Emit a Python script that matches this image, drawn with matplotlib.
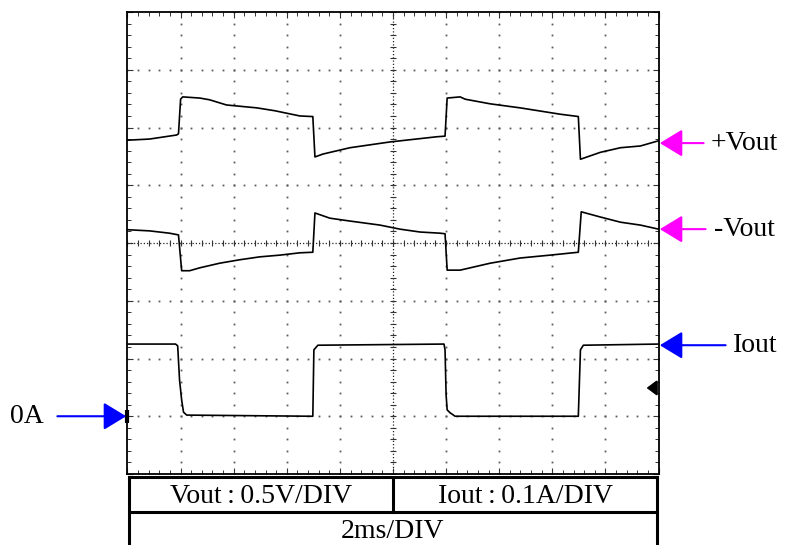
"""
Captura de osciloscopio: +Vout, -Vout e Iout con carga conmutada.
Vout: 0.5 V/DIV, Iout: 0.1 A/DIV, base de tiempo 2 ms/DIV.
"""

import numpy as np
import matplotlib.pyplot as plt
from matplotlib.patches import FancyArrowPatch
from matplotlib.ticker import MultipleLocator

plt.rcParams["font.family"] = ["Liberation Serif", "DejaVu Serif"]

t_vpos = [0, 0.83, 1.85, 1.92, 2.00, 2.08, 2.72, 3.09, 3.73, 4.87, 5.55,
          6.49, 6.94, 6.98, 7.06, 7.36, 8.38, 9.89, 11.66, 11.96, 12.04,
          12.53, 12.72, 13.66, 14.79, 16.30, 16.98, 17.06, 17.81, 18.57,
          19.32, 20.0]
vpos_div = [5.78, 5.80, 5.87, 5.89, 6.49, 6.53, 6.51, 6.48, 6.39, 6.34, 6.29,
            6.20, 6.19, 6.19, 5.49, 5.54, 5.65, 5.75, 5.84, 5.85, 6.51,
            6.53, 6.49, 6.41, 6.34, 6.23, 6.19, 5.45, 5.57, 5.65,
            5.68, 5.77]

t_vneg = [0, 0.83, 1.58, 1.92, 2.04, 2.34, 2.72, 3.47, 4.23, 4.98, 5.74,
          6.49, 6.98, 7.06, 7.62, 8.38, 9.51, 10.26, 11.02, 11.77, 11.96,
          12.04, 12.53, 13.66, 14.79, 15.92, 16.98, 17.09, 17.81, 18.57,
          19.32, 20.0]
vneg_div = [4.23, 4.21, 4.17, 4.14, 3.52, 3.52, 3.57, 3.65, 3.71, 3.76, 3.79,
            3.83, 3.84, 4.52, 4.43, 4.38, 4.31, 4.24, 4.19, 4.17, 4.16,
            3.53, 3.53, 3.65, 3.74, 3.79, 3.84, 4.54, 4.45, 4.36,
            4.31, 4.24]

t_iout = [0, 1.81, 1.89, 1.96, 2.04, 2.11, 2.23, 6.94, 6.98, 7.02, 7.17,
          11.92, 11.96, 12.0, 12.04, 12.15, 12.34, 16.98, 17.06, 17.17, 20.0]
iout_a = [0.125, 0.125, 0.122, 0.063, 0.028, 0.007, 0.002, 0.0, 0.0, 0.115,
          0.123, 0.125, 0.115, 0.037, 0.011, 0.006, 0.0, 0.0, 0.115, 0.123,
          0.125]

# Escalas y referencias de la pantalla
ms_per_div = 2.0
a_per_div = 0.1
zero_a_div = 1.0          # nivel de 0 A en la pantalla
n_xdiv, n_ydiv = 10, 8

# Marcadores de canal (nivel en DIV)
vpos_marker = 5.73
vneg_marker = 4.24
iout_marker = 2.23
trig_marker = 1.49

escala_v = "Vout\u2009:\u20090.5V/DIV"
escala_i = "Iout\u2009:\u20090.1A/DIV"
escala_t = "2ms/DIV"

MAGENTA = "#FF00FF"
AZUL = "#0000FF"

fig = plt.figure(figsize=(7.87, 5.45), dpi=100)
ax = fig.add_axes([127.5 / 787, 71 / 545, 531 / 787, 462 / 545])

t_max = n_xdiv * ms_per_div
ax.set_xlim(0, t_max)
ax.set_ylim(0, n_ydiv)

# --- Reticula del osciloscopio ---
x_minor = np.arange(0, t_max + 1e-9, ms_per_div / 5)
y_minor = np.arange(0, n_ydiv + 1e-9, 0.2)
for yk in range(1, n_ydiv):
    if yk == n_ydiv // 2:
        continue
    ax.plot(x_minor, np.full_like(x_minor, yk), ls="none", marker="s",
            ms=1.3, mew=0, color="0.35", zorder=1)
for xk in range(1, n_xdiv):
    if xk == n_xdiv // 2:
        continue
    ax.plot(np.full_like(y_minor, xk * ms_per_div), y_minor, ls="none",
            marker="s", ms=1.3, mew=0, color="0.35", zorder=1)

# Ejes centrales con marcas
xc, yc = t_max / 2, n_ydiv / 2
ax.axhline(yc, color="0.15", lw=0.9, ls=(0, (1, 1.6)), zorder=1)
ax.axvline(xc, color="0.15", lw=0.9, ls=(0, (1, 1.6)), zorder=1)
ax.plot(x_minor, np.full_like(x_minor, yc), ls="none", marker="|", ms=5,
        mew=0.8, color="0.2", zorder=1)
ax.plot(np.full_like(y_minor, xc), y_minor, ls="none", marker="_", ms=5,
        mew=0.8, color="0.2", zorder=1)

ax.set_xticks(np.arange(0, t_max + 1e-9, ms_per_div))
ax.set_yticks(np.arange(0, n_ydiv + 1))
ax.xaxis.set_minor_locator(MultipleLocator(ms_per_div / 5))
ax.yaxis.set_minor_locator(MultipleLocator(0.2))
ax.tick_params(which="both", direction="in", top=True, right=True,
               labelbottom=False, labelleft=False, color="0.2")
ax.tick_params(which="major", length=4, width=0.8)
ax.tick_params(which="minor", length=3, width=0.7)
for lado in ax.spines.values():
    lado.set_linewidth(1.3)

# --- Trazas ---
iout_div = [zero_a_div + i / a_per_div for i in iout_a]
ax.plot(t_vpos, vpos_div, color="black", lw=1.2, zorder=3)
ax.plot(t_vneg, vneg_div, color="black", lw=1.2, zorder=3)
ax.plot(t_iout, iout_div, color="black", lw=1.2, zorder=3)

# Marca de 0 A en el borde izquierdo
ax.plot([0, 0], [zero_a_div - 0.11, zero_a_div + 0.11], color="black",
        lw=3, clip_on=False, zorder=4, solid_capstyle="butt")


def flecha(x_tail, x_tip, y, color, ms=10, hl=1.4, hw=0.85, lw=1.5):
    """Flecha horizontal en coordenadas de datos."""
    arr = FancyArrowPatch((x_tail, y), (x_tip, y),
                          arrowstyle=f"-|>,head_length={hl},head_width={hw}",
                          mutation_scale=ms, color=color, lw=lw,
                          shrinkA=0, shrinkB=0, clip_on=False, zorder=5)
    ax.add_patch(arr)


px_ms = 26.5  # px por ms en pantalla
flecha(t_max + 45 / px_ms, t_max + 0.05, vpos_marker, MAGENTA)
flecha(t_max + 47 / px_ms, t_max + 0.05, vneg_marker, MAGENTA)
flecha(t_max + 67 / px_ms, t_max + 0.05, iout_marker, AZUL)
flecha(-70 / px_ms, -0.05, zero_a_div, AZUL)
flecha(t_max - 0.08, t_max - 0.45, trig_marker, "black", ms=5, hl=1.2,
       hw=0.9, lw=1.6)

ax.text(t_max + 52 / px_ms, vpos_marker, "+Vout", fontsize=20,
        va="center", ha="left")
ax.text(t_max + 55 / px_ms, vneg_marker, "-Vout", fontsize=20,
        va="center", ha="left")
ax.text(t_max + 74 / px_ms, iout_marker, "Iout", fontsize=20,
        va="center", ha="left")
ax.text(-117 / px_ms, zero_a_div, "0A", fontsize=20, va="center", ha="left")

# --- Tabla de escalas ---
tab = fig.add_axes([129 / 787, 0, 528 / 787, 68 / 545])
tab.set_xlim(0, 1)
tab.set_ylim(0, 1)
tab.set_xticks([])
tab.set_yticks([])
tab.spines["bottom"].set_visible(False)
for nombre in ("left", "right", "top"):
    tab.spines[nombre].set_linewidth(2.2)
fila = 33 / 68
tab.axhline(fila, color="black", lw=2.2)
tab.plot([0.5, 0.5], [fila, 1], color="black", lw=2.2)
tab.text(0.25, 0.615, escala_v, fontsize=20, ha="center", va="baseline")
tab.text(0.75, 0.615, escala_i, fontsize=20, ha="center", va="baseline")
tab.text(0.5, 0.1, escala_t, fontsize=20, ha="center", va="baseline")

fig.savefig("out.png", dpi=100)
